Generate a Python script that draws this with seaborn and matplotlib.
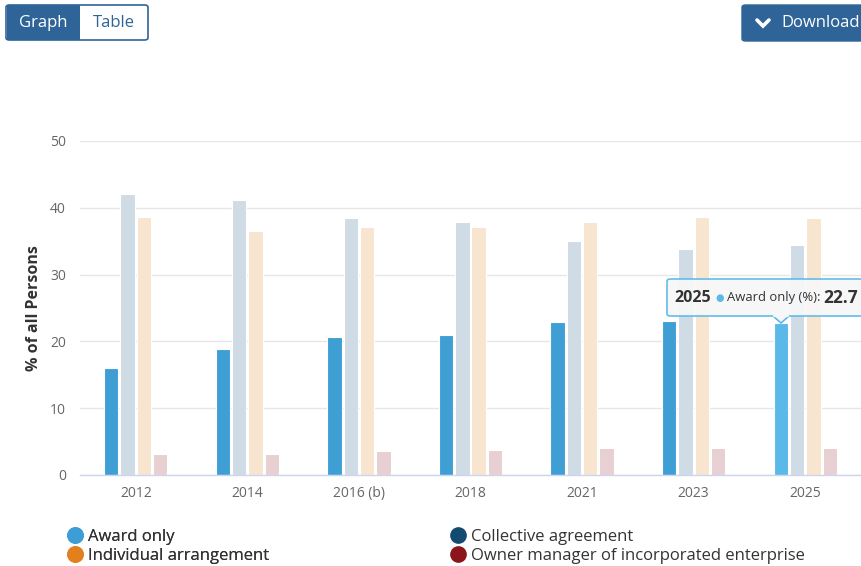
import matplotlib
matplotlib.use("Agg")
import matplotlib.pyplot as plt
import seaborn as sns
import pandas as pd
from matplotlib.patches import FancyBboxPatch, Polygon, Rectangle
from matplotlib.lines import Line2D

years = ["2012", "2014", "2016 (b)", "2018", "2021", "2023", "2025"]
series = ["Award only", "Collective agreement", "Individual arrangement",
          "Owner manager of incorporated enterprise"]
award_only = [16.0, 18.8, 20.6, 20.9, 22.9, 23.1, 22.7]
collective = [42.0, 41.1, 38.5, 37.8, 35.1, 33.9, 34.5]
individual = [38.6, 36.5, 37.2, 37.2, 37.8, 38.6, 38.5]
owner = [3.2, 3.2, 3.6, 3.7, 4.0, 4.0, 4.0]

bar_colors = ["#3f9fd4", "#cfdbe5", "#f8e5d0", "#e8cfd1"]
legend_colors = ["#3d9dd6", "#124a70", "#e3801e", "#8b151b"]
hover_color = "#5bb9ea"

rows = []
for name, vals in zip(series, [award_only, collective, individual, owner]):
    for y, v in zip(years, vals):
        rows.append({"Year": y, "Series": name, "Value": v})
df = pd.DataFrame(rows)

sns.set_theme(style="white")
plt.rcParams["font.family"] = ["Open Sans", "DejaVu Sans"]

W, H = 861, 566
fig = plt.figure(figsize=(W / 100, H / 100), dpi=100)
ax = fig.add_axes([80 / W, 1 - 475 / H, 781 / W, (475 - 141) / H])

sns.barplot(data=df, x="Year", y="Value", hue="Series", order=years,
            hue_order=series, palette=bar_colors, width=0.585, gap=0.12,
            saturation=1, edgecolor="white", linewidth=0.8, ax=ax, legend=False)

# highlight hovered bar (2025, Award only)
award_bars = ax.containers[0]
award_bars[len(years) - 1].set_facecolor(hover_color)

ax.set_ylim(0, 50)
ax.set_xlim(-0.5, len(years) - 0.5)
ax.set_yticks([0, 10, 20, 30, 40, 50])
ax.yaxis.grid(True, color="#e6e6e6", linewidth=1)
ax.set_axisbelow(True)
for s in ["top", "right", "left"]:
    ax.spines[s].set_visible(False)
ax.spines["bottom"].set_color("#ccd6eb")
ax.spines["bottom"].set_linewidth(1)
ax.tick_params(axis="both", length=0, labelsize=10, labelcolor="#666666")
ax.tick_params(axis="y", pad=10)
ax.tick_params(axis="x", pad=8)
ax.set_xlabel("")
ax.set_ylabel("% of all Persons", fontsize=11.5, fontweight="bold", color="#333333")
ax.yaxis.set_label_coords(-(80 - 42) / 781, 0.5)

# legends
def fx(px):
    return px / W

def fy(py):
    return 1 - py / H

def mk(c):
    return Line2D([], [], marker="o", linestyle="", markersize=11,
                  markerfacecolor=c, markeredgecolor=c)

legkw = dict(loc="upper left", frameon=False, fontsize=12, handletextpad=0.26,
             labelspacing=0.19, handlelength=1.0, borderaxespad=0, borderpad=0)
leg1 = fig.legend([mk(legend_colors[0]), mk(legend_colors[2])],
                  [series[0], series[2]], bbox_to_anchor=(fx(67), fy(529)),
                  **legkw)
for t in leg1.get_texts():
    t.set_color("#333333")
leg2 = fig.legend([mk(legend_colors[1]), mk(legend_colors[3])],
                  [series[1], series[3]], bbox_to_anchor=(fx(450), fy(529)),
                  **legkw)
for t in leg2.get_texts():
    t.set_color("#333333")
fig.add_artist(leg1)

# buttons
btn_blue = "#2e6498"
def fig_rect(x0, y0, x1, y1, **kw):
    p = FancyBboxPatch((fx(x0), fy(y1)), fx(x1) - fx(x0), fy(y0) - fy(y1),
                       boxstyle="round,pad=0,rounding_size=0.004",
                       transform=fig.transFigure, **kw)
    fig.add_artist(p)
    return p

fig_rect(6, 5, 148, 40, facecolor="white", edgecolor=btn_blue, linewidth=1.2)
fig.add_artist(Rectangle((fx(6.5), fy(39.5)), fx(80) - fx(6.5), fy(5.5) - fy(39.5),
                         transform=fig.transFigure, facecolor=btn_blue,
                         edgecolor="none"))
fig.text(fx(43), fy(23), "Graph", color="white", fontsize=12, ha="center",
         va="center")
fig.text(fx(114), fy(23), "Table", color=btn_blue, fontsize=12, ha="center",
         va="center")

fig_rect(742, 5, 875, 41, facecolor=btn_blue, edgecolor=btn_blue, linewidth=1)
fig.add_artist(Line2D([fx(757), fx(763), fx(769)], [fy(20), fy(26), fy(20)],
                      transform=fig.transFigure, color="white", linewidth=2.6,
                      solid_capstyle="round", solid_joinstyle="miter"))
fig.text(fx(781), fy(23), "Download", color="white", fontsize=12, ha="left",
         va="center")

# tooltip
tip_edge = hover_color
tb = FancyBboxPatch((fx(667), fy(316)), fx(880) - fx(667), fy(279) - fy(316),
                    boxstyle="round,pad=0,rounding_size=0.004",
                    transform=fig.transFigure, facecolor="#f7f7f7",
                    edgecolor=tip_edge, linewidth=1.2, alpha=0.95)
fig.add_artist(tb)
fig.add_artist(Polygon([(fx(773), fy(316)), (fx(781), fy(323)), (fx(789), fy(316))],
                       closed=False, transform=fig.transFigure,
                       facecolor="#f7f7f7", edgecolor=tip_edge, linewidth=1.2))
fig.add_artist(Line2D([fx(774), fx(788)], [fy(316), fy(316)],
                      transform=fig.transFigure, color="#f7f7f7", linewidth=1.6))
fig.text(fx(674), fy(298), "2025", fontsize=11.5, fontweight="bold",
         color="#333333", ha="left", va="center")
fig.text(fx(715), fy(298), "\u25cf", fontsize=7, color=hover_color, ha="left",
         va="center", family=["DejaVu Sans"])
fig.text(fx(727), fy(298), "Award only (%):", fontsize=9.4, color="#333333",
         ha="left", va="center")
fig.text(fx(823), fy(298), "22.7", fontsize=12.5, fontweight="bold",
         color="#333333", ha="left", va="center")

fig.savefig("out.png", dpi=100)
